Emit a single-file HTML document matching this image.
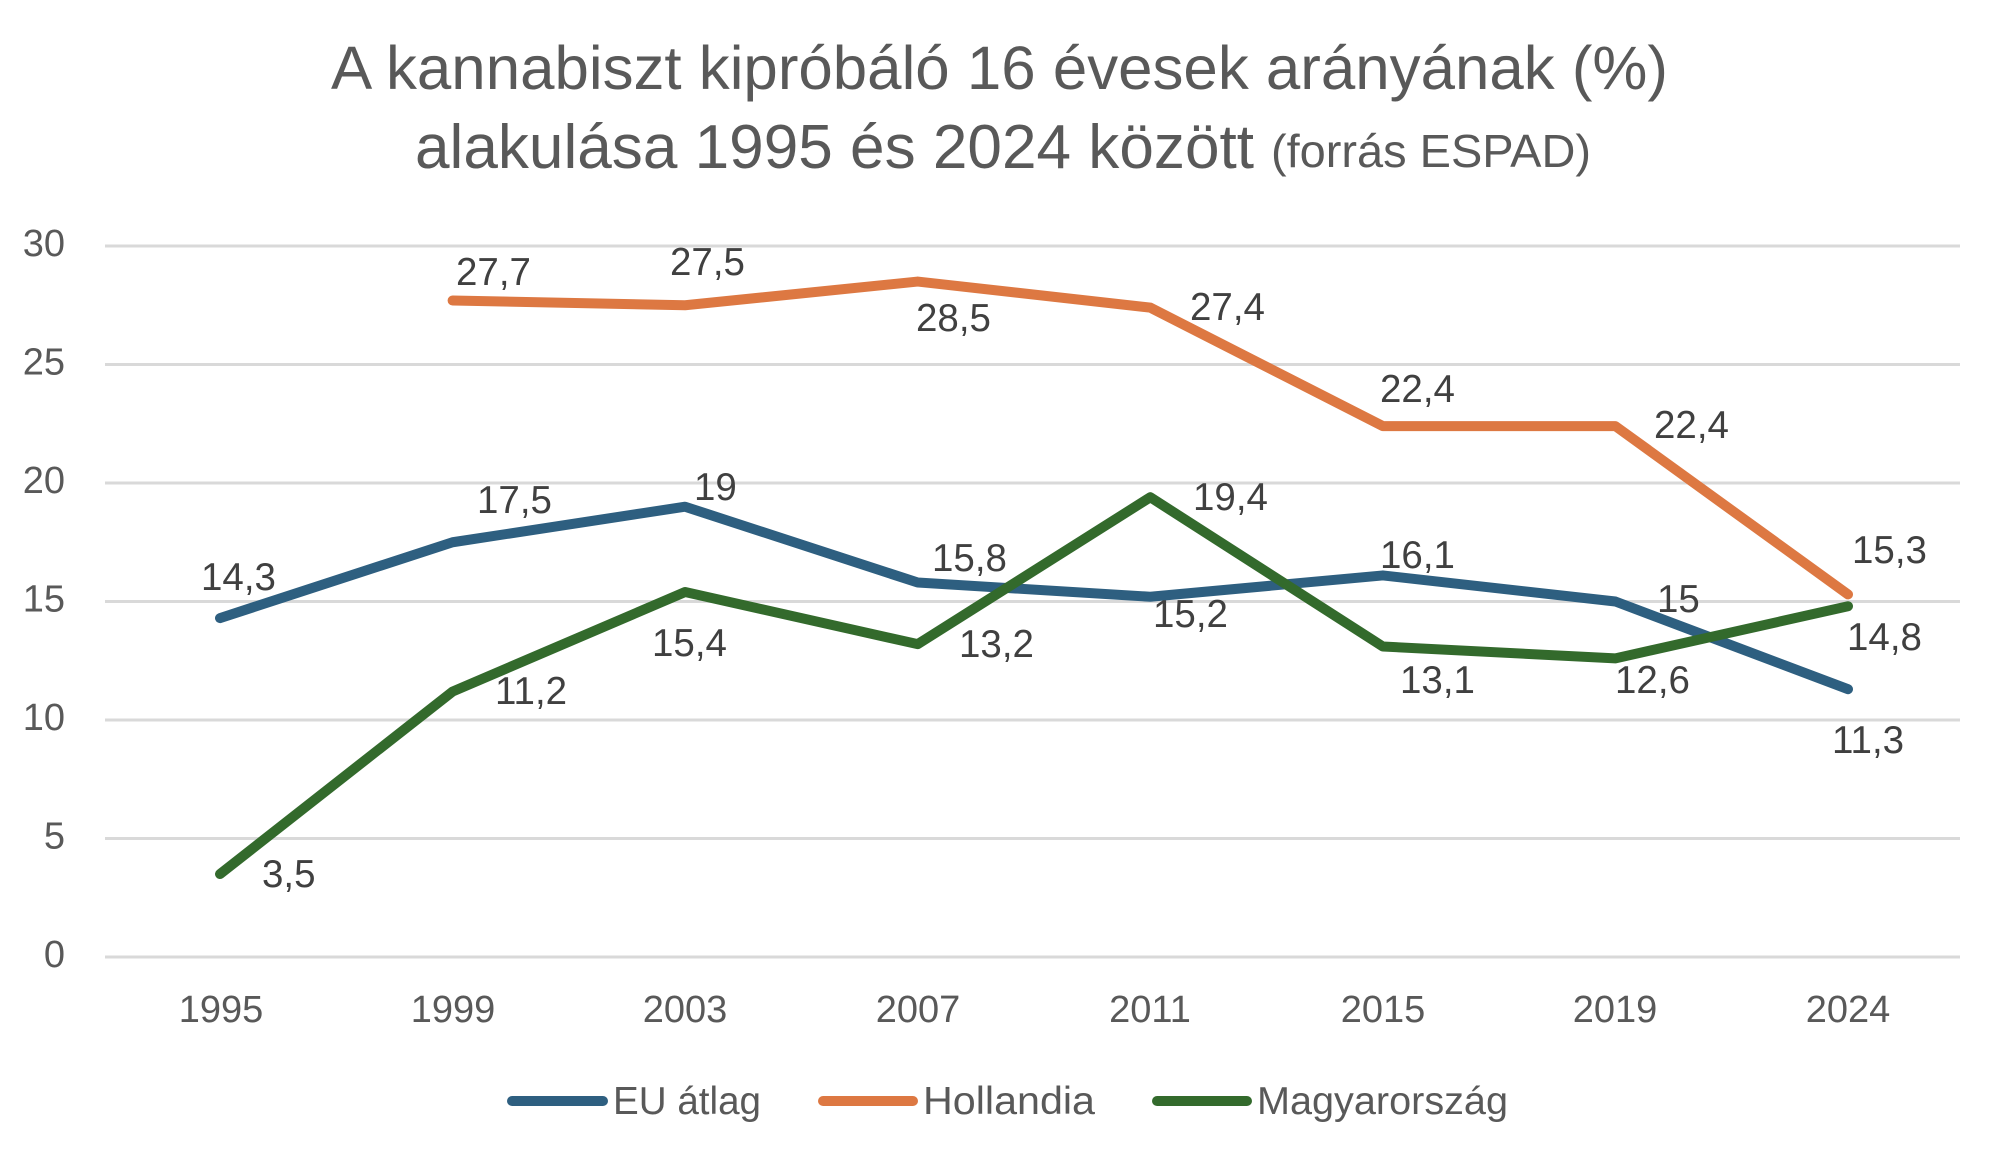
<!DOCTYPE html>
<html>
<head>
<meta charset="utf-8">
<style>
html,body{margin:0;padding:0;background:#fff;}
svg{display:block;}
text{font-family:"Liberation Sans",Arial,sans-serif;}
</style>
</head>
<body>
<svg width="2000" height="1165" viewBox="0 0 2000 1165" xmlns="http://www.w3.org/2000/svg">
<rect width="2000" height="1165" fill="#ffffff"/>
<!-- title -->
<text x="331" y="89" font-size="61.5" fill="#595959" textLength="1337" lengthAdjust="spacingAndGlyphs">A kannabiszt kipróbáló 16 évesek arányának (%)</text>
<text x="415" y="168" font-size="62" fill="#595959" textLength="839" lengthAdjust="spacingAndGlyphs">alakulása 1995 és 2024 között</text>
<text x="1271" y="167" font-size="46" fill="#595959" textLength="320" lengthAdjust="spacingAndGlyphs">(forrás ESPAD)</text>

<!-- gridlines -->
<g stroke="#d9d9d9" stroke-width="3">
<line x1="105" y1="246" x2="1960" y2="246"/>
<line x1="105" y1="364.5" x2="1960" y2="364.5"/>
<line x1="105" y1="483" x2="1960" y2="483"/>
<line x1="105" y1="601.5" x2="1960" y2="601.5"/>
<line x1="105" y1="720" x2="1960" y2="720"/>
<line x1="105" y1="838.5" x2="1960" y2="838.5"/>
<line x1="105" y1="957" x2="1960" y2="957"/>
</g>

<!-- y axis labels -->
<g font-size="38" fill="#595959" text-anchor="end">
<text x="65" y="256">30</text>
<text x="65" y="374.5">25</text>
<text x="65" y="493">20</text>
<text x="65" y="611.5">15</text>
<text x="65" y="730">10</text>
<text x="65" y="848.5">5</text>
<text x="65" y="967">0</text>
</g>

<!-- x axis labels -->
<g font-size="38" fill="#595959" text-anchor="middle">
<text x="221" y="1022">1995</text>
<text x="453" y="1022">1999</text>
<text x="685" y="1022">2003</text>
<text x="918" y="1022">2007</text>
<text x="1150" y="1022">2011</text>
<text x="1383" y="1022">2015</text>
<text x="1615" y="1022">2019</text>
<text x="1848" y="1022">2024</text>
</g>

<!-- series -->
<g fill="none" stroke-width="10" stroke-linejoin="round" stroke-linecap="round">
<polyline stroke="#2e5f80" points="220,618.1 452.6,542.25 685.1,506.7 917.7,582.54 1150.3,596.76 1382.9,575.43 1615.4,601.5 1848,689.19"/>
<polyline stroke="#dd7842" points="452.6,300.51 685.1,305.25 917.7,281.55 1150.3,307.62 1382.9,426.12 1615.4,426.12 1848,594.39"/>
<polyline stroke="#336a2c" points="220,874.05 452.6,691.56 685.1,592.02 917.7,644.16 1150.3,497.22 1382.9,646.53 1615.4,658.38 1848,606.24"/>
</g>

<!-- data labels -->
<g font-size="38.5" fill="#404040">
<!-- EU -->
<text x="201" y="590">14,3</text>
<text x="477" y="513">17,5</text>
<text x="694" y="500">19</text>
<text x="932" y="571">15,8</text>
<text x="1153" y="627">15,2</text>
<text x="1380" y="568">16,1</text>
<text x="1657" y="612">15</text>
<text x="1832" y="753">11,3</text>
<!-- Holland -->
<text x="456" y="285">27,7</text>
<text x="670" y="275">27,5</text>
<text x="916" y="331">28,5</text>
<text x="1190" y="320">27,4</text>
<text x="1380" y="402">22,4</text>
<text x="1654" y="438">22,4</text>
<text x="1852" y="563">15,3</text>
<!-- Magyar -->
<text x="262" y="887">3,5</text>
<text x="495" y="704">11,2</text>
<text x="652" y="656">15,4</text>
<text x="959" y="657">13,2</text>
<text x="1193" y="510">19,4</text>
<text x="1400" y="693">13,1</text>
<text x="1615" y="693">12,6</text>
<text x="1847" y="650">14,8</text>
</g>

<!-- legend -->
<g stroke-width="10" stroke-linecap="round">
<line x1="512" y1="1101" x2="603" y2="1101" stroke="#2e5f80"/>
<line x1="823" y1="1101" x2="913" y2="1101" stroke="#dd7842"/>
<line x1="1157" y1="1101" x2="1247" y2="1101" stroke="#336a2c"/>
</g>
<g font-size="39" fill="#595959">
<text x="613" y="1114" textLength="148" lengthAdjust="spacingAndGlyphs">EU átlag</text>
<text x="923" y="1114" textLength="172" lengthAdjust="spacingAndGlyphs">Hollandia</text>
<text x="1257" y="1114" textLength="251" lengthAdjust="spacingAndGlyphs">Magyarország</text>
</g>
</svg>
</body>
</html>
